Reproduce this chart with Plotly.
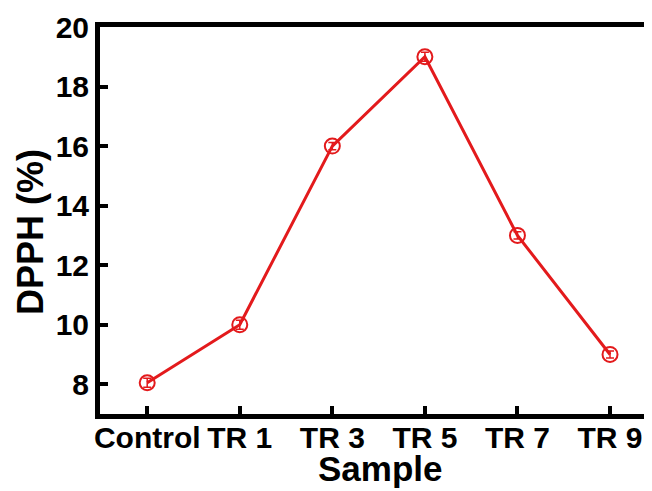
import plotly.graph_objects as go

samples = ["Control", "TR 1", "TR 3", "TR 5", "TR 7", "TR 9"]
dpph = [8.05, 10.0, 16.0, 19.0, 13.0, 9.0]
dpph_err = [0.15, 0.15, 0.12, 0.15, 0.12, 0.12]
y_ticks = [8, 10, 12, 14, 16, 18, 20]

red = "#e31a1c"
fig = go.Figure()
fig.add_trace(go.Scatter(
    x=list(range(len(samples))), y=dpph,
    mode="lines+markers",
    line=dict(color=red, width=3),
    marker=dict(symbol="circle-open", size=15, color=red, line=dict(width=2, color=red)),
    error_y=dict(type="data", array=dpph_err, visible=True, color=red, thickness=1.5, width=4),
))

font = "Liberation Sans, Arial, sans-serif"
fig.update_layout(
    width=652, height=491,
    margin=dict(l=92, r=0, t=19, b=85),
    paper_bgcolor="white", plot_bgcolor="white",
    showlegend=False,
    font=dict(family=font, color="black"),
    annotations=[
        dict(text="<b>Sample</b>", xref="paper", yref="paper", x=0.5, y=-0.142,
             xanchor="center", yanchor="middle", showarrow=False,
             font=dict(size=35, family=font, color="black")),
        dict(text="<b>DPPH (%)</b>", xref="paper", yref="paper", x=-0.125, y=0.47,
             xanchor="center", yanchor="middle", showarrow=False, textangle=-90,
             font=dict(size=36, family=font, color="black")),
    ],
)
fig.update_xaxes(
    automargin=False,
    range=[-0.51, 5.54],
    tickmode="array", tickvals=list(range(len(samples))), ticktext=[f"<b>{s}</b>" for s in samples],
    tickfont=dict(size=30, family=font, color="black"),
    ticklabelstandoff=-7,
    showline=True, linewidth=5, linecolor="black", mirror=True,
    ticks="inside", ticklen=8, tickwidth=4, tickcolor="black",
    showgrid=False, zeroline=False,
)
fig.update_yaxes(
    automargin=False,
    range=[7, 20],
    tickmode="array", tickvals=y_ticks, ticktext=[f"<b>{v}</b>" for v in y_ticks],
    tickfont=dict(size=30, family=font, color="black"),
    showline=True, linewidth=5, linecolor="black", mirror=False,
    ticks="inside", ticklen=8, tickwidth=4, tickcolor="black",
    showgrid=False, zeroline=False,
)
fig.write_html("out.html")
